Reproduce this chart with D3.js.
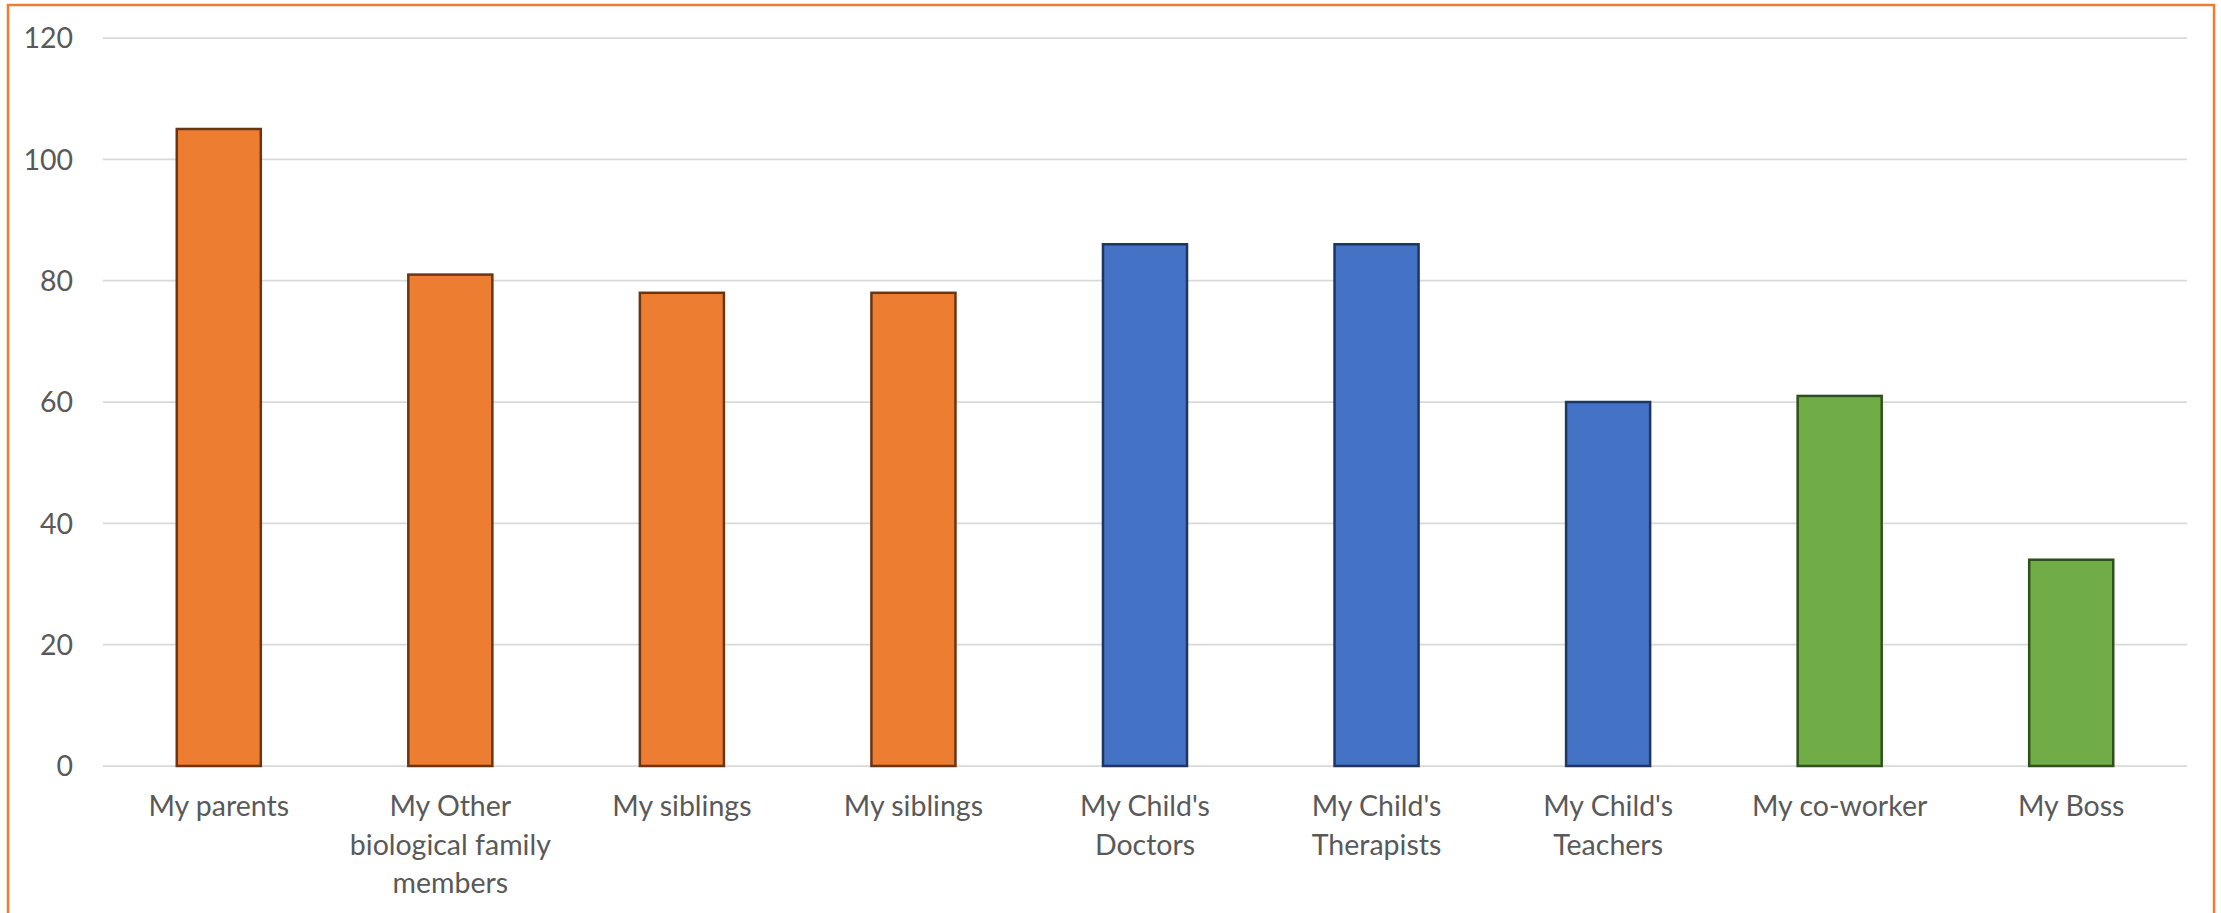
<!DOCTYPE html>
<html>
<head>
<meta charset="utf-8">
<script src="https://cdn.jsdelivr.net/npm/d3@7"></script>
<style>
  body { margin: 0; background: #fff; }
  svg { display: block; }
  .tick-label { font-family: Lato, "Open Sans", sans-serif; font-size: 28.5px; fill: #595959; }
</style>
</head>
<body>
<div id="chart"></div>
<script>
// categories (each label split into the lines shown under the axis)
const categories = [
  ["My parents"],
  ["My Other", "biological family", "members"],
  ["My siblings"],
  ["My siblings"],
  ["My Child's", "Doctors"],
  ["My Child's", "Therapists"],
  ["My Child's", "Teachers"],
  ["My co-worker"],
  ["My Boss"]
];
const values = [105, 81, 78, 78, 86, 86, 60, 61, 34];
const groups = ["family", "family", "family", "family", "care", "care", "care", "work", "work"];
const yTicks = [0, 20, 40, 60, 80, 100, 120];

const fills = { family: "#ED7D31", care: "#4472C4", work: "#70AD47" };
const strokes = { family: "#6B3512", care: "#1F3660", work: "#2F4F1C" };

const width = 2221;
const height = 913;

const svg = d3.select("#chart")
  .append("svg")
  .attr("width", width)
  .attr("height", height);

// outer frame, runs past the bottom edge like the original
svg.append("rect")
  .attr("x", 8)
  .attr("y", 5)
  .attr("width", 2206)
  .attr("height", 1000)
  .attr("fill", "none")
  .attr("stroke", "#ED7D31")
  .attr("stroke-width", 2.5);

const idx = d3.range(values.length);

const xScale = d3.scaleBand()
  .domain(idx)
  .range([103, 2187])
  .paddingInner(0.637)
  .paddingOuter(0.637 / 2);

const yScale = d3.scaleLinear()
  .domain([0, 120])
  .range([766, 38]);

// gridlines
svg.append("g")
  .selectAll("line")
  .data(yTicks)
  .enter()
  .append("line")
  .attr("x1", 103)
  .attr("x2", 2187)
  .attr("y1", d => yScale(d))
  .attr("y2", d => yScale(d))
  .attr("stroke", "#D9D9D9")
  .attr("stroke-width", 1.75);

// y labels
svg.append("g")
  .selectAll("text")
  .data(yTicks)
  .enter()
  .append("text")
  .attr("class", "tick-label")
  .attr("x", 73)
  .attr("y", d => yScale(d))
  .attr("dy", "0.36em")
  .attr("text-anchor", "end")
  .text(d => d);

// bars
svg.append("g")
  .selectAll("rect")
  .data(idx)
  .enter()
  .append("rect")
  .attr("x", i => xScale(i))
  .attr("y", i => yScale(values[i]))
  .attr("width", xScale.bandwidth())
  .attr("height", i => yScale(0) - yScale(values[i]))
  .attr("fill", i => fills[groups[i]])
  .attr("stroke", i => strokes[groups[i]])
  .attr("stroke-width", 2.5);

// x labels
const xLabels = svg.append("g")
  .selectAll("text")
  .data(idx)
  .enter()
  .append("text")
  .attr("class", "tick-label")
  .attr("text-anchor", "middle")
  .attr("x", i => xScale(i) + xScale.bandwidth() / 2)
  .attr("y", 816);

xLabels.selectAll("tspan")
  .data(i => categories[i].map(line => ({ line, x: xScale(i) + xScale.bandwidth() / 2 })))
  .enter()
  .append("tspan")
  .attr("x", d => d.x)
  .attr("dy", (d, j) => j === 0 ? 0 : 38.5)
  .text(d => d.line);
</script>
</body>
</html>
